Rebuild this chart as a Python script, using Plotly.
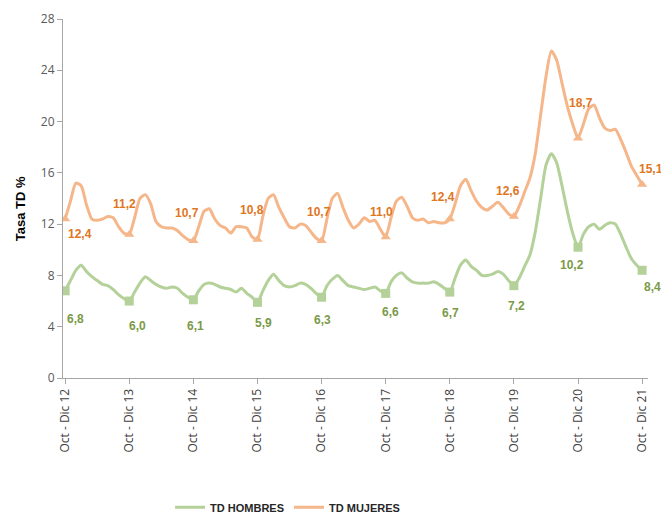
import plotly.graph_objects as go

# Trimestres móviles desde Oct-Dic 2012 hasta Oct-Dic 2021 (109 puntos)
years = [12, 13, 14, 15, 16, 17, 18, 19, 20, 21]
tick_labels = [f"Oct - Dic {y}" for y in years]

td_mujeres = [
    12.4, 13.8, 15.2, 15.0, 13.5, 12.4, 12.3, 12.4, 12.6, 12.5, 11.8, 11.3,
    11.2, 12.5, 14.0, 14.3, 13.6, 12.2, 11.8, 11.7, 11.7, 11.5, 11.1, 10.8,
    10.7, 11.8, 13.0, 13.2, 12.4, 11.9, 11.7, 11.3, 11.8, 11.8, 11.7, 11.0,
    10.8, 12.6, 14.0, 14.3, 13.3, 12.5, 11.8, 11.7, 12.0, 11.9, 11.4, 10.9,
    10.7, 12.4, 14.0, 14.4, 13.3, 12.3, 11.7, 12.0, 12.5, 12.2, 12.3, 11.6,
    11.0, 12.5, 13.8, 14.1, 13.4, 12.5, 12.3, 12.4, 12.1, 12.2, 12.1, 12.1,
    12.4, 13.6, 15.0, 15.5, 14.6, 13.8, 13.3, 13.1, 13.4, 13.7, 13.3, 12.8,
    12.6, 13.4, 14.5, 15.6, 17.5, 20.5, 23.5, 25.5, 24.8, 23.0, 21.2, 19.8,
    18.7, 19.8, 21.0, 21.3, 20.3, 19.5, 19.3, 19.4, 18.6, 17.6, 16.5, 15.8,
    15.1,
]

td_hombres = [
    6.8, 7.6, 8.4, 8.8, 8.3, 7.9, 7.6, 7.3, 7.2, 6.9, 6.5, 6.2,
    6.0, 6.7, 7.4, 7.9, 7.6, 7.3, 7.1, 7.0, 7.1, 7.0, 6.6, 6.3,
    6.1, 6.8, 7.3, 7.4, 7.3, 7.1, 7.0, 6.9, 6.7, 7.0, 6.6, 6.3,
    5.9, 6.8, 7.6, 8.1, 7.6, 7.2, 7.1, 7.2, 7.4, 7.3, 7.0, 6.6,
    6.3, 7.2, 7.7, 8.0, 7.6, 7.2, 7.1, 7.0, 6.9, 7.0, 7.1, 6.8,
    6.6, 7.5, 8.0, 8.2, 7.8, 7.5, 7.4, 7.4, 7.4, 7.5, 7.3, 7.0,
    6.7, 7.8, 8.8, 9.2, 8.7, 8.4, 8.0, 8.0, 8.1, 8.3, 8.1, 7.6,
    7.2, 7.8, 8.7, 9.6, 11.4, 14.0, 16.6, 17.5, 16.8, 15.0, 13.0, 11.3,
    10.2, 11.2, 11.8, 12.0, 11.6, 11.9, 12.1, 12.0, 11.2, 10.2, 9.3, 8.8,
    8.4,
]

# Valores rotulados en cada Oct-Dic
lbl_mujeres = [12.4, 11.2, 10.7, 10.8, 10.7, 11.0, 12.4, 12.6, 18.7, 15.1]
lbl_hombres = [6.8, 6.0, 6.1, 5.9, 6.3, 6.6, 6.7, 7.2, 10.2, 8.4]

x = list(range(len(td_mujeres)))
tick_idx = list(range(0, len(x), 12))

C_M_LINE = "#F5B68A"
C_M_TEXT = "#E0761F"
C_H_LINE = "#B3D199"
C_H_TEXT = "#7A9A48"
FONT = "Liberation Sans, Arial, sans-serif"

fig = go.Figure()

fig.add_trace(go.Scatter(
    x=x, y=td_hombres, mode="lines", name="TD HOMBRES",
    line=dict(color=C_H_LINE, width=3, shape="spline", smoothing=0.6),
))
fig.add_trace(go.Scatter(
    x=x, y=td_mujeres, mode="lines", name="TD MUJERES",
    line=dict(color=C_M_LINE, width=3, shape="spline", smoothing=0.6),
))

# marcadores en Oct-Dic
fig.add_trace(go.Scatter(
    x=tick_idx, y=[td_hombres[i] for i in tick_idx], mode="markers",
    marker=dict(symbol="square", size=9, color=C_H_LINE),
    showlegend=False, hoverinfo="skip",
))
fig.add_trace(go.Scatter(
    x=tick_idx, y=[td_mujeres[i] for i in tick_idx], mode="markers",
    marker=dict(symbol="triangle-up", size=9, color=C_M_LINE),
    showlegend=False, hoverinfo="skip",
))

# desplazamientos de las etiquetas (px)
m_shift = [(15, -15), (-5, 30), (-6, 28), (-5, 30), (-3, 29), (-4, 25),
           (-7, 22), (-6, 25), (3, 35), (9, 15)]
h_shift = [(10, -28), (8, -25), (2, -26), (6, -21), (1, -23), (5, -19),
           (1, -21), (3, -20), (-6, -18), (10, -17)]

for k, i in enumerate(tick_idx):
    fig.add_annotation(
        x=i, y=td_mujeres[i], text=f"{lbl_mujeres[k]:.1f}".replace(".", ","),
        showarrow=False, xshift=m_shift[k][0], yshift=m_shift[k][1],
        font=dict(family=FONT, size=12, color=C_M_TEXT, weight="bold"),
    )
    fig.add_annotation(
        x=i, y=td_hombres[i], text=f"{lbl_hombres[k]:.1f}".replace(".", ","),
        showarrow=False, xshift=h_shift[k][0], yshift=h_shift[k][1],
        font=dict(family=FONT, size=12, color=C_H_TEXT, weight="bold"),
    )

# título del eje Y
fig.add_annotation(
    xref="paper", yref="paper", x=-0.0735, y=0.47, textangle=-90,
    xanchor="center", yanchor="middle",
    text="Tasa TD %", showarrow=False,
    font=dict(family=FONT, size=13, color="#000000", weight="bold"),
)

# la página añade 8 px de margen al cuerpo: se descuentan aquí
fig.update_layout(
    width=661, height=506,
    margin=dict(l=55, r=21, t=11, b=136, autoexpand=False),
    plot_bgcolor="white", paper_bgcolor="white",
    font=dict(family=FONT, color="#595959"),
    showlegend=True,
    legend=dict(
        orientation="h", x=0.183, xanchor="left", y=-0.36, yanchor="middle",
        font=dict(family=FONT, size=11, color="#262626", weight="bold"),
        itemwidth=30, tracegroupgap=0,
    ),
)

fig.update_xaxes(
    range=[-0.4, 109.1], automargin=False,
    tickvals=tick_idx, ticktext=tick_labels, tickangle=-90,
    tickfont=dict(family="Open Sans, " + FONT, size=12, color="#404040"),
    showline=True, linecolor="#A6A6A6", linewidth=1,
    ticks="outside", ticklen=5, tickcolor="#A6A6A6",
    showgrid=False, zeroline=False,
)
fig.update_yaxes(
    range=[0, 28], dtick=4, automargin=False,
    tickfont=dict(family="Open Sans, " + FONT, size=12, color="#595959"),
    showline=True, linecolor="#A6A6A6", linewidth=1,
    ticks="outside", ticklen=5, tickcolor="#A6A6A6",
    showgrid=False, zeroline=False,
)

fig.write_html("out.html")
